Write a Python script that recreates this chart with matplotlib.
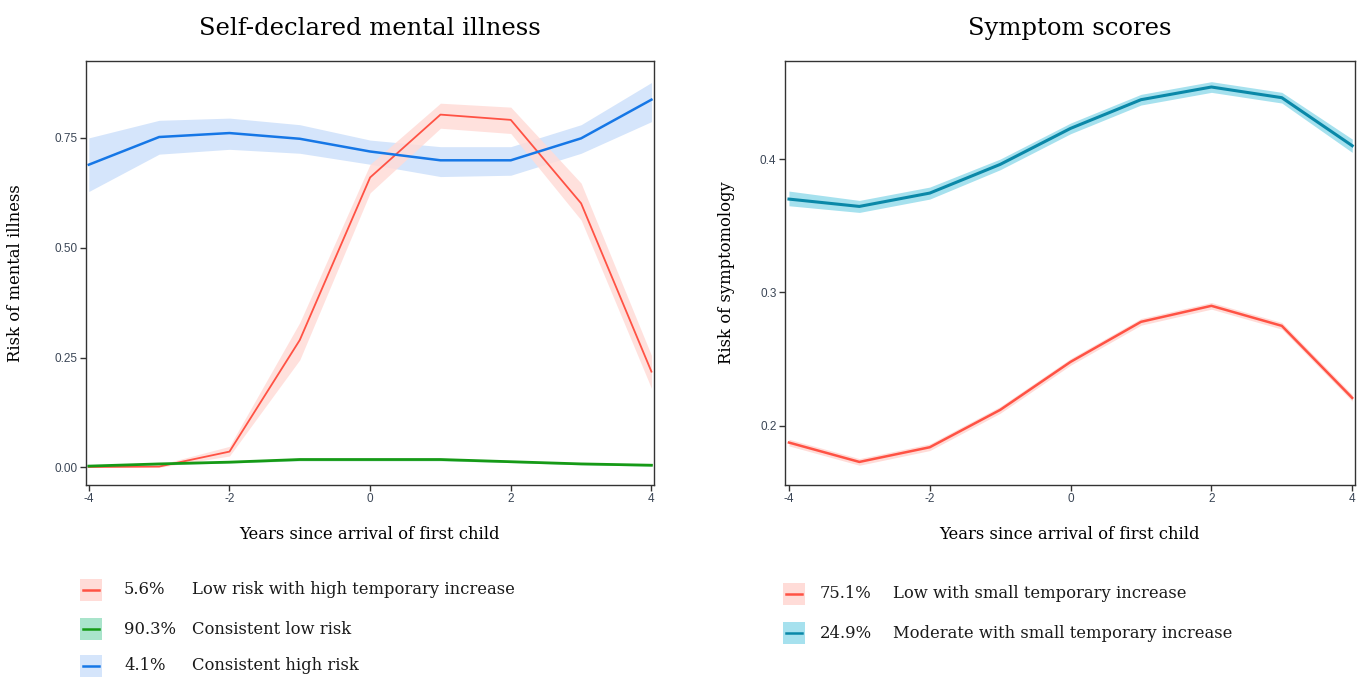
import numpy as np
import matplotlib.pyplot as plt
from matplotlib.patches import Rectangle
from matplotlib.lines import Line2D

plt.rcParams['axes.unicode_minus'] = False

years = [-4, -3, -2, -1, 0, 1, 2, 3, 4]

# Self-declared mental illness
red_mi = [0.001, 0.002, 0.036, 0.29, 0.66, 0.803, 0.791, 0.601, 0.218]
red_mi_lo = [0.0, 0.0, 0.026, 0.245, 0.625, 0.772, 0.760, 0.563, 0.180]
red_mi_hi = [0.004, 0.006, 0.048, 0.330, 0.690, 0.829, 0.820, 0.647, 0.255]
green_mi = [0.003, 0.008, 0.012, 0.018, 0.018, 0.018, 0.013, 0.008, 0.005]
green_mi_lo = [0.001, 0.006, 0.010, 0.015, 0.015, 0.015, 0.011, 0.006, 0.003]
green_mi_hi = [0.005, 0.010, 0.014, 0.021, 0.021, 0.021, 0.015, 0.010, 0.007]
blue_mi = [0.689, 0.752, 0.761, 0.748, 0.719, 0.699, 0.699, 0.749, 0.837]
blue_mi_lo = [0.628, 0.713, 0.724, 0.715, 0.690, 0.662, 0.665, 0.715, 0.787]
blue_mi_hi = [0.750, 0.790, 0.795, 0.780, 0.745, 0.730, 0.730, 0.780, 0.876]

# Symptom scores
red_ss = [0.1875, 0.173, 0.184, 0.212, 0.248, 0.278, 0.290, 0.275, 0.221]
red_ss_lo = [0.185, 0.1705, 0.1815, 0.2095, 0.2455, 0.2755, 0.2875, 0.2725, 0.2185]
red_ss_hi = [0.190, 0.1755, 0.1865, 0.2145, 0.2505, 0.2805, 0.2925, 0.2775, 0.2235]
teal_ss = [0.370, 0.3645, 0.3745, 0.396, 0.423, 0.4445, 0.454, 0.446, 0.410]
teal_ss_lo = [0.365, 0.360, 0.370, 0.392, 0.419, 0.4405, 0.450, 0.442, 0.405]
teal_ss_hi = [0.376, 0.369, 0.379, 0.400, 0.427, 0.4485, 0.458, 0.450, 0.415]

mi_pct = ['5.6%', '90.3%', '4.1%']
mi_labels = ['Low risk with high temporary increase', 'Consistent low risk', 'Consistent high risk']
ss_pct = ['75.1%', '24.9%']
ss_labels = ['Low with small temporary increase', 'Moderate with small temporary increase']

RED, RED_BAND = '#FF5244', '#FFDCD8'
GREEN, GREEN_BAND = '#169A16', '#A9E4CB'
BLUE, BLUE_BAND = '#1677E6', '#D5E5FB'
TEAL, TEAL_BAND = '#0A88A8', '#A6E1EE'

serif = 'DejaVu Serif'
tickcol = '#3B4656'

fig = plt.figure(figsize=(13.65, 6.77), dpi=100)
ax1 = fig.add_axes([0.0630, 0.2836, 0.4158, 0.6263])
ax2 = fig.add_axes([0.5749, 0.2836, 0.4178, 0.6263])


def style(ax):
    for s in ax.spines.values():
        s.set_color('#333333')
        s.set_linewidth(1.0)
    ax.tick_params(direction='out', length=4, width=1, color='#333333',
                   labelsize=8.5, labelcolor=tickcol, pad=2)
    for lab in ax.get_xticklabels() + ax.get_yticklabels():
        lab.set_family('Liberation Sans')


# left panel
ax1.fill_between(years, blue_mi_lo, blue_mi_hi, color=BLUE_BAND, lw=0)
ax1.fill_between(years, red_mi_lo, red_mi_hi, color=RED_BAND, lw=0, alpha=0.85)
ax1.fill_between(years, green_mi_lo, green_mi_hi, color=GREEN_BAND, lw=0)
ax1.plot(years, red_mi, color=RED, lw=1.3)
ax1.plot(years, green_mi, color=GREEN, lw=2)
ax1.plot(years, blue_mi, color=BLUE, lw=1.8)
ax1.set_xlim(-4.04, 4.03)
ax1.set_ylim(-0.040, 0.925)
ax1.set_xticks([-4, -2, 0, 2, 4])
ax1.set_yticks([0, 0.25, 0.5, 0.75])
ax1.set_yticklabels(['0.00', '0.25', '0.50', '0.75'])
style(ax1)
ax1.set_title('Self-declared mental illness', family=serif, fontsize=17.5, pad=19)
ax1.set_xlabel('Years since arrival of first child', family=serif, fontsize=11.8, labelpad=15)
ax1.set_ylabel('Risk of mental illness', family=serif, fontsize=11.8, labelpad=22)

# right panel
ax2.fill_between(years, teal_ss_lo, teal_ss_hi, color=TEAL_BAND, lw=0)
ax2.fill_between(years, red_ss_lo, red_ss_hi, color=RED_BAND, lw=0)
ax2.plot(years, teal_ss, color=TEAL, lw=2.2)
ax2.plot(years, red_ss, color=RED, lw=1.8)
ax2.set_xlim(-4.06, 4.04)
ax2.set_ylim(0.1557, 0.4735)
ax2.set_xticks([-4, -2, 0, 2, 4])
ax2.set_yticks([0.2, 0.3, 0.4])
style(ax2)
ax2.set_title('Symptom scores', family=serif, fontsize=17.5, pad=19)
ax2.set_xlabel('Years since arrival of first child', family=serif, fontsize=11.8, labelpad=15)
ax2.set_ylabel('Risk of symptomology', family=serif, fontsize=11.8, labelpad=18)


# legends drawn below each panel
def legend_rows(x0, y_rows, pcts, labels, cols, bands, pct_dx, lab_dx):
    W, H = 1365.0, 677.0
    for y, p, l, c, b in zip(y_rows, pcts, labels, cols, bands):
        fig.patches.append(Rectangle(((x0) / W, 1 - (y + 11) / H), 22 / W, 22 / H,
                                     transform=fig.transFigure, color=b, lw=0))
        fig.lines.append(Line2D([(x0 + 3) / W, (x0 + 19) / W], [1 - y / H, 1 - y / H],
                                transform=fig.transFigure, color=c, lw=1.8))
        fig.text((x0 + pct_dx) / W, 1 - y / H, p, family=serif, fontsize=11.8,
                 va='center', ha='left', color='#1a1a1a')
        fig.text((x0 + lab_dx) / W, 1 - y / H, l, family=serif, fontsize=11.8,
                 va='center', ha='left', color='#1a1a1a')


legend_rows(80, [590, 629, 666], mi_pct, mi_labels, [RED, GREEN, BLUE],
            [RED_BAND, GREEN_BAND, BLUE_BAND], 44, 112)
legend_rows(783, [594, 633], ss_pct, ss_labels, [RED, TEAL],
            [RED_BAND, TEAL_BAND], 37, 110)

fig.savefig('out.png', dpi=100, facecolor='white')
